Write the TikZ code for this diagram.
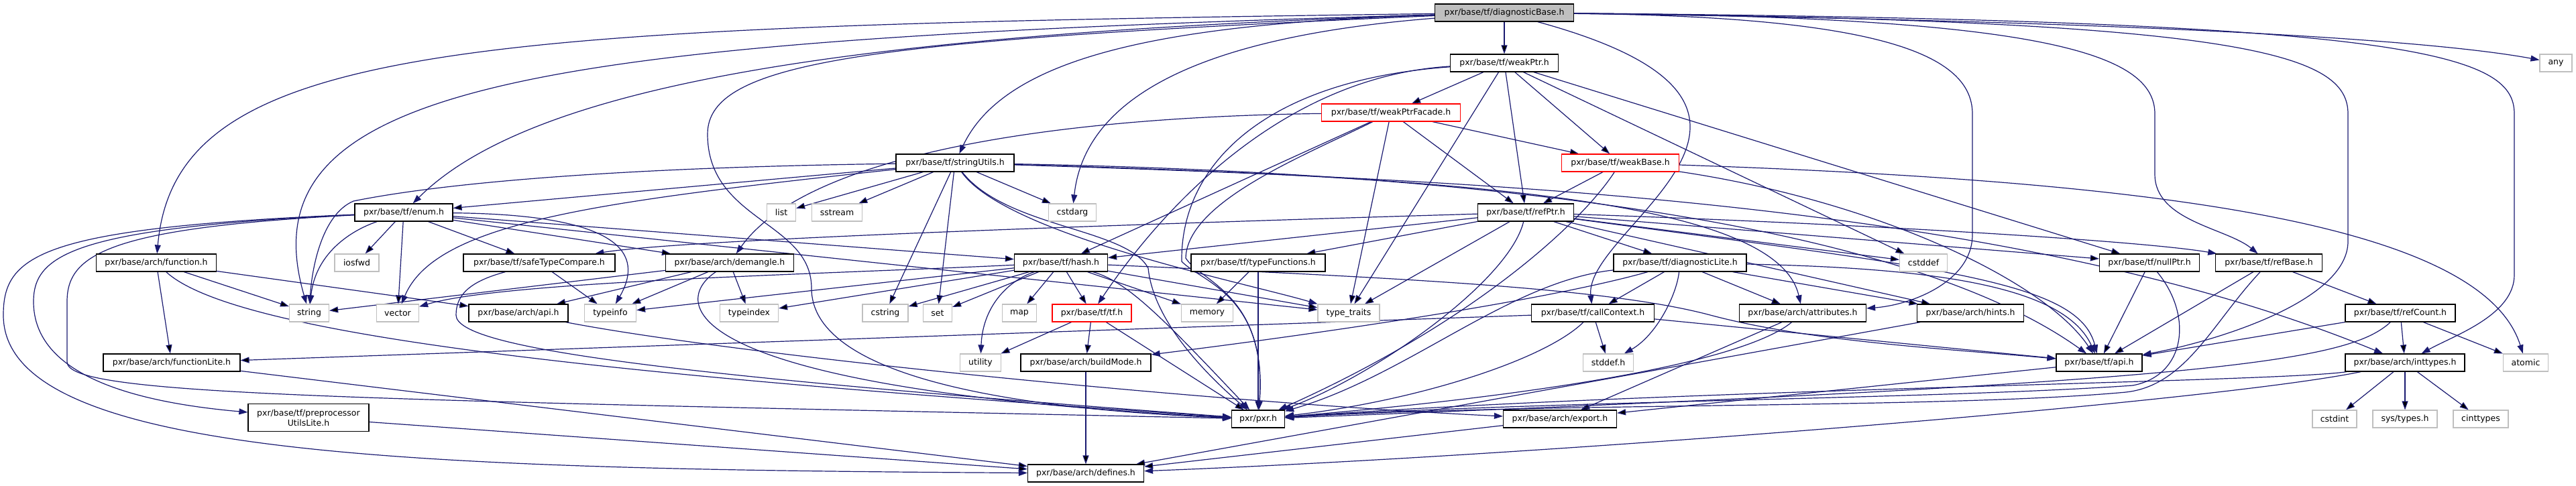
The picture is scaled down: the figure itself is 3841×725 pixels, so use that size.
\documentclass[tikz,border=0pt]{standalone}
\usepackage{fontspec}
\setmainfont{DejaVu Sans}
\usetikzlibrary{arrows.meta}
\definecolor{edgeblue}{HTML}{191970}
\definecolor{extgray}{HTML}{BFBFBF}
\pgfdeclarelayer{bg}
\pgfsetlayers{bg,main}

\begin{document}
\begin{tikzpicture}[
        x=1pt, y=-1pt,
        >={Triangle[length=13pt,width=9pt]},
        every node/.style={font=\fontsize{12.5}{15}\selectfont},
        file/.style={draw=black, fill=white, line width=1.2pt, inner sep=0pt, minimum height=26pt},
        sysfile/.style={file, draw=extgray},
        trunc/.style={file, draw=red},
        rootfile/.style={file, fill=extgray},
        dep/.style={->, draw=edgeblue, line width=1.2pt}
    ]
    \useasboundingbox (0,0) rectangle (3841,725);
        \node[rootfile, minimum width=207pt] (root) at (2243,19) {pxr/base/tf/diagnosticBase.h};
        \node[file, minimum width=161pt] (weakptr) at (2243,94) {pxr/base/tf/weakPtr.h};
        \node[sysfile, minimum width=48pt] (any) at (3811,94) {any};
        \node[trunc, minimum width=207pt] (facade) at (2074,168) {pxr/base/tf/weakPtrFacade.h};
        \node[file, minimum width=176pt] (strutils) at (1424,243) {pxr/base/tf/stringUtils.h};
        \node[trunc, minimum width=175pt] (weakbase) at (2416,243) {pxr/base/tf/weakBase.h};
        \node[file, minimum width=146pt] (enumh) at (602,317) {pxr/base/tf/enum.h};
        \node[sysfile, minimum width=43pt] (list) at (1165,317) {list};
        \node[sysfile, minimum width=75pt] (sstream) at (1248,317) {sstream};
        \node[sysfile, minimum width=71pt] (cstdarg) at (1599,317) {cstdarg};
        \node[file, minimum width=143pt] (refptr) at (2275,317) {pxr/base/tf/refPtr.h};
        \node[file, minimum width=179pt] (archfunc) at (233,392) {pxr/base/arch/function.h};
        \node[sysfile, minimum width=66pt] (iosfwd) at (532,392) {iosfwd};
        \node[file, minimum width=226pt] (safecmp) at (804,392) {pxr/base/tf/safeTypeCompare.h};
        \node[file, minimum width=191pt] (demangle) at (1088,392) {pxr/base/arch/demangle.h};
        \node[file, minimum width=139pt] (hash) at (1582,392) {pxr/base/tf/hash.h};
        \node[file, minimum width=200pt] (typefuncs) at (1876,392) {pxr/base/tf/typeFunctions.h};
        \node[file, minimum width=198pt] (diaglite) at (2505,392) {pxr/base/tf/diagnosticLite.h};
        \node[sysfile, minimum width=71pt] (cstddef) at (2868,392) {cstddef};
        \node[file, minimum width=149pt] (nullptr) at (3205,392) {pxr/base/tf/nullPtr.h};
        \node[file, minimum width=159pt] (refbase) at (3383,392) {pxr/base/tf/refBase.h};
        \node[sysfile, minimum width=59pt] (string) at (461,467) {string};
        \node[sysfile, minimum width=63pt] (vector) at (593,467) {vector};
        \node[file, minimum width=148pt] (archapi) at (773,467) {pxr/base/arch/api.h};
        \node[sysfile, minimum width=77pt] (typeinfo) at (910,467) {typeinfo};
        \node[sysfile, minimum width=87pt] (typeindex) at (1117,467) {typeindex};
        \node[sysfile, minimum width=68pt] (cstring) at (1320,467) {cstring};
        \node[sysfile, minimum width=43pt] (set) at (1398,467) {set};
        \node[sysfile, minimum width=51pt] (map) at (1520,467) {map};
        \node[trunc, minimum width=118pt] (tfh) at (1628,467) {pxr/base/tf/tf.h};
        \node[sysfile, minimum width=77pt] (memory) at (1800,467) {memory};
        \node[sysfile, minimum width=92pt] (typetraits) at (2011,467) {type\_traits};
        \node[file, minimum width=183pt] (callctx) at (2375,467) {pxr/base/tf/callContext.h};
        \node[file, minimum width=189pt] (attribs) at (2688,467) {pxr/base/arch/attributes.h};
        \node[file, minimum width=159pt] (hints) at (2938,467) {pxr/base/arch/hints.h};
        \node[file, minimum width=164pt] (refcount) at (3579,467) {pxr/base/tf/refCount.h};
        \node[file, minimum width=204pt] (funclite) at (256,541) {pxr/base/arch/functionLite.h};
        \node[sysfile, minimum width=61pt] (utility) at (1462,541) {utility};
        \node[file, minimum width=194pt] (buildmode) at (1619,541) {pxr/base/arch/buildMode.h};
        \node[sysfile, minimum width=75pt] (stddefh) at (2398,541) {stddef.h};
        \node[file, minimum width=128pt] (tfapi) at (3130,541) {pxr/base/tf/api.h};
        \node[file, minimum width=178pt] (inttypes) at (3586,541) {pxr/base/arch/inttypes.h};
        \node[sysfile, minimum width=67pt] (atomic) at (3766,541) {atomic};
        \node[file, minimum width=180pt, minimum height=41pt, align=center] (preproc) at (460,623) {pxr/base/tf/preprocessor\\UtilsLite.h};
        \node[file, minimum width=79pt] (pxrh) at (1876,625) {pxr/pxr.h};
        \node[file, minimum width=169pt] (exporth) at (2326,625) {pxr/base/arch/export.h};
        \node[sysfile, minimum width=66pt] (cstdint) at (3481,625) {cstdint};
        \node[sysfile, minimum width=96pt] (systypes) at (3586,625) {sys/types.h};
        \node[sysfile, minimum width=82pt] (cinttypes) at (3699,625) {cinttypes};
        \node[file, minimum width=173pt] (defines) at (1619,706) {pxr/base/arch/defines.h};
\begin{pgfonlayer}{bg}
\path[dep]
        (root) edge (weakptr)
        (weakptr) edge (facade)
        (weakptr) edge (weakbase)
        (weakptr) edge (refptr)
        (weakptr) edge (typetraits)
        (weakptr) edge (cstddef)
        (weakptr) edge (nullptr)
        (facade) edge (weakbase)
        (facade) edge (refptr)
        (facade) edge (hash)
        (facade) edge (typetraits)
        (weakbase) edge (refptr)
        (refptr) edge (hash)
        (refptr) edge (typefuncs)
        (refptr) edge (typetraits)
        (refptr) edge (diaglite)
        (refptr) edge (cstddef)
        (refptr) edge (nullptr)
        (refptr) edge (hints)
        (strutils) edge (enumh)
        (strutils) edge (list)
        (strutils) edge (sstream)
        (strutils) edge (cstdarg)
        (strutils) edge (cstring)
        (strutils) edge (set)
        (enumh) edge (iosfwd)
        (enumh) edge (vector)
        (enumh) edge (safecmp)
        (enumh) edge (demangle)
        (enumh) edge (hash)
        (enumh) edge (typetraits)
        (archfunc) edge (funclite)
        (archfunc) edge (string)
        (archfunc) edge (archapi)
        (safecmp) edge (typeinfo)
        (demangle) edge (archapi)
        (demangle) edge (typeinfo)
        (demangle) edge (typeindex)
        (demangle) edge (string)
        (hash) edge (cstring)
        (hash) edge (set)
        (hash) edge (map)
        (hash) edge (tfh)
        (hash) edge (memory)
        (hash) edge (typetraits)
        (hash) edge (typeinfo)
        (hash) edge (typeindex)
        (typefuncs) edge (memory)
        (typefuncs) edge (pxrh)
        (tfh) edge (utility)
        (tfh) edge (buildmode)
        (tfh) edge (pxrh)
        (buildmode) edge (defines)
        (diaglite) edge (callctx)
        (diaglite) edge (attribs)
        (diaglite) edge (hints)
        (callctx) edge (stddefh)
        (callctx) edge (funclite)
        (callctx) edge (tfapi)
        (attribs) edge (exporth)
        (hints) edge (defines)
        (nullptr) edge (tfapi)
        (refbase) edge (tfapi)
        (refbase) edge (refcount)
        (refcount) edge (inttypes)
        (refcount) edge (atomic)
        (refcount) edge (tfapi)
        (inttypes) edge (cstdint)
        (inttypes) edge (systypes)
        (inttypes) edge (cinttypes)
        (tfapi) edge (exporth)
        (exporth) edge (defines)
        (funclite) edge (defines)
        (preproc) edge (defines);
\draw[dep] (root) .. controls (700,40) and (262,60) .. (archfunc);
\draw[dep] (root) .. controls (800,60) and (360,120) .. (string);
\draw[dep] (root) .. controls (1300,50) and (800,120) .. (enumh);
\draw[dep] (root) .. controls (1750,35) and (1500,80) .. (strutils);
\draw[dep] (root) .. controls (1850,50) and (1620,120) .. (cstdarg);
\draw[dep] (root) .. controls (3100,30) and (3600,55) .. (any);
\draw[dep] (root) .. controls (2760,160) and (2360,340) .. (callctx);
\draw[dep] (root) .. controls (2800,25) and (2941,80) .. (2941,170) -- (2941,350) .. controls (2941,420) and (2850,455) .. (attribs);
\draw[dep] (root) .. controls (3050,25) and (3213,80) .. (3213,170) -- (3213,260) .. controls (3213,330) and (3320,340) .. (refbase);
\draw[dep] (root) .. controls (3350,30) and (3501,80) .. (3501,170) -- (3501,360) .. controls (3501,450) and (3300,510) .. (tfapi);
\draw[dep] (root) .. controls (3600,30) and (3749,80) .. (3749,170) -- (3749,410) .. controls (3749,470) and (3660,500) .. (inttypes);
\draw[dep] (root) .. controls (1300,60) and (1055,90) .. (1055,200) .. controls (1055,330) and (1210,330) .. (1210,430) .. controls (1210,560) and (1500,610) .. (pxrh);
\draw[dep] (weakptr) .. controls (1900,115) and (1720,330) .. (tfh);
\draw[dep] (weakptr) .. controls (1880,120) and (1760,250) .. (1762,390) .. controls (1790,420) and (1890,440) .. (pxrh);
\draw[dep] (facade) .. controls (1550,175) and (1200,235) .. (demangle);
\draw[dep] (facade) .. controls (1950,230) and (1770,300) .. (1768,385) .. controls (1790,420) and (1890,440) .. (pxrh);
\draw[dep] (weakbase) .. controls (2360,330) and (2200,480) .. (pxrh);
\draw[dep] (weakbase) .. controls (2800,300) and (3050,420) .. (tfapi);
\draw[dep] (weakbase) .. controls (3200,270) and (3700,330) .. (atomic);
\draw[dep] (refptr) .. controls (1500,340) and (1000,360) .. (safecmp);
\draw[dep] (refptr) .. controls (2800,335) and (3200,360) .. (refbase);
\draw[dep] (refptr) .. controls (2900,400) and (3100,420) .. (tfapi);
\draw[dep] (refptr) .. controls (2250,420) and (2050,560) .. (pxrh);
\draw[dep] (strutils) .. controls (900,250) and (650,275) .. (527,300) .. controls (480,320) and (465,400) .. (string);
\draw[dep] (strutils) .. controls (900,300) and (650,330) .. (vector);
\draw[dep] (strutils) .. controls (1500,350) and (1850,420) .. (typetraits);
\draw[dep] (strutils) .. controls (1500,340) and (1680,340) .. (1712,400) .. controls (1720,480) and (1800,560) .. (pxrh);
\draw[dep] (strutils) .. controls (2200,265) and (2650,300) .. (attribs);
\draw[dep] (strutils) .. controls (2200,268) and (3000,300) .. (inttypes);
\draw[dep] (strutils) .. controls (2250,258) and (2850,340) .. (tfapi);
\draw[dep] (enumh) .. controls (520,345) and (470,380) .. (string);
\draw[dep] (enumh) .. controls (930,320) and (960,380) .. (typeinfo);
\draw[dep] (enumh) .. controls (60,340) and (5,380) .. (5,470) .. controls (5,680) and (600,700) .. (defines);
\draw[dep] (enumh) .. controls (110,340) and (50,380) .. (50,450) .. controls (50,560) and (200,600) .. (preproc);
\draw[dep] (enumh) .. controls (160,340) and (100,380) .. (100,450) -- (100,540) .. controls (100,590) and (500,595) .. (pxrh);
\draw[dep] (archfunc) .. controls (350,500) and (900,560) .. (pxrh);
\draw[dep] (safecmp) .. controls (700,420) and (680,440) .. (680,470) .. controls (680,520) and (1000,560) .. (pxrh);
\draw[dep] (demangle) .. controls (1000,450) and (1000,580) .. (pxrh);
\draw[dep] (archapi) .. controls (1100,530) and (1800,600) .. (exporth);
\draw[dep] (hash) .. controls (1500,420) and (1465,460) .. (utility);
\draw[dep] (hash) .. controls (1680,420) and (1730,470) .. (pxrh);
\draw[dep] (hash) .. controls (1200,410) and (750,420) .. (vector);
\draw[dep] (hash) .. controls (2100,415) and (2400,430) .. (2550,470) .. controls (2700,510) and (2900,520) .. (tfapi);
\draw[dep] (diaglite) .. controls (2300,450) and (1950,500) .. (buildmode);
\draw[dep] (diaglite) .. controls (2900,400) and (3080,430) .. (tfapi);
\draw[dep] (diaglite) .. controls (2500,440) and (2470,500) .. (stddefh);
\draw[dep] (diaglite) .. controls (2250,420) and (2100,560) .. (pxrh);
\draw[dep] (callctx) .. controls (2300,540) and (2100,600) .. (pxrh);
\draw[dep] (attribs) .. controls (2600,540) and (2300,590) .. (pxrh);
\draw[dep] (nullptr) .. controls (3270,470) and (3260,560) .. (3180,575) .. controls (2900,595) and (2300,598) .. (pxrh);
\draw[dep] (refbase) .. controls (3300,480) and (3260,575) .. (3170,585) .. controls (2900,610) and (2300,600) .. (pxrh);
\draw[dep] (refcount) .. controls (3500,540) and (3300,570) .. (pxrh);
\draw[dep] (inttypes) .. controls (3400,570) and (2500,580) .. (pxrh);
\draw[dep] (inttypes) .. controls (3300,600) and (2300,680) .. (defines);
\end{pgfonlayer}
\end{tikzpicture}
\end{document}
